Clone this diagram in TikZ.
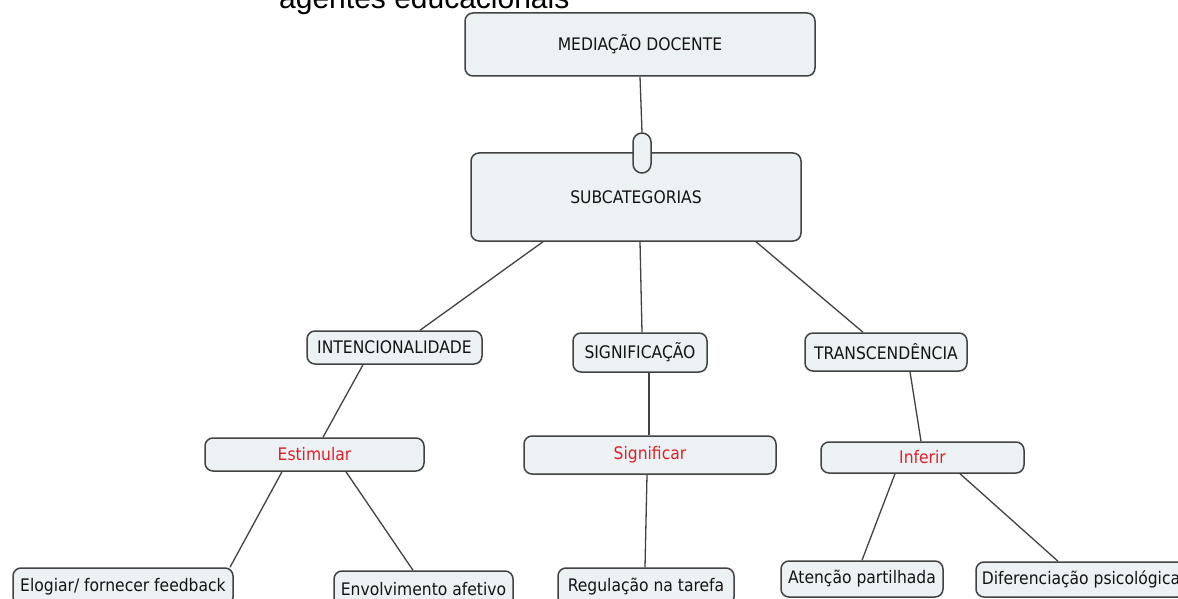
\documentclass[tikz,border=0pt]{standalone}
\usepackage{fontspec}
\newfontfamily\mapfont{DejaVu Sans Condensed}
\newfontfamily\titlefont{Liberation Sans}

\definecolor{boxfill}{RGB}{236,241,243}
\definecolor{boxline}{RGB}{66,66,66}
\definecolor{verbred}{RGB}{222,32,42}

\begin{document}
\begin{tikzpicture}[x=1pt, y=-1pt]
    \tikzstyle{concept} = [rectangle, rounded corners=8pt, draw=boxline, line width=1.5pt, fill=boxfill, inner sep=0pt, text=black!92, font=\mapfont\fontsize{17.3}{20}\selectfont]
    \tikzstyle{verb} = [concept, text=verbred]
    \tikzstyle{joint} = [rectangle, rounded corners=9pt, draw=boxline, line width=1.5pt, fill=boxfill, minimum width=18pt, minimum height=40pt, inner sep=0pt]
    \tikzstyle{connector} = [draw=boxline, line width=1.3pt]

    \clip (0,0) rectangle (1178,599);
    \fill [white] (0,0) rectangle (1178,599);

    % title cut by the top edge
    \node (title) [anchor=base west, inner sep=0pt, font=\titlefont\fontsize{30}{36}\selectfont] at (279,8.5) {agentes educacionais};

    \node (top) [concept, minimum width=350pt, minimum height=63pt] at (640,44.5) {MEDIAÇÃO DOCENTE};
    \node (sub) [concept, minimum width=330pt, minimum height=88pt] at (636,197) {SUBCATEGORIAS};
    \node (link) [joint] at (642,153) {};

    \node (intenc) [concept, minimum width=175pt, minimum height=33pt] at (394.5,347.5) {INTENCIONALIDADE};
    \node (signif) [concept, minimum width=134pt, minimum height=39pt] at (640,352.5) {SIGNIFICAÇÃO};
    \node (transc) [concept, minimum width=162pt, minimum height=38pt] at (886,352) {TRANSCENDÊNCIA};

    \node (estim) [verb, minimum width=219pt, minimum height=33pt] at (314.5,454.5) {Estimular};
    \node (signifv) [verb, minimum width=252pt, minimum height=38pt] at (650,455) {Significar};
    \node (infer) [verb, minimum width=203pt, minimum height=31pt] at (922.5,457.5) {Inferir};

    \node (elogiar) [concept, minimum width=220pt, minimum height=37pt] at (123,586.5) {Elogiar/ fornecer feedback};
    \node (envolv) [concept, minimum width=179pt, minimum height=37pt] at (423.5,589.5) {Envolvimento afetivo};
    \node (regul) [concept, minimum width=176pt, minimum height=37pt] at (646,586.5) {Regulação na tarefa};
    \node (atencao) [concept, minimum width=162pt, minimum height=36pt] at (862,579) {Atenção partilhada};
    \node (difer) [concept, minimum width=210pt, minimum height=35pt] at (1081,579.5) {Diferenciação psicológica};

    \draw [connector] (top.south) -- (link.north);
    \draw [connector] ([xshift=-93pt]sub.south) -- ([xshift=25.5pt]intenc.north);
    \draw [connector] ([xshift=4pt]sub.south) -- ([xshift=2pt]signif.north);
    \draw [connector] ([xshift=120pt]sub.south) -- ([xshift=-23pt]transc.north);
    \draw [connector] ([xshift=-31.5pt]intenc.south) -- ([xshift=8.5pt]estim.north);
    \draw [connector] ([xshift=9pt]signif.south) -- ([xshift=-1pt]signifv.north);
    \draw [connector] ([xshift=24pt]transc.south) -- ([xshift=-1.5pt]infer.north);
    \draw [connector] ([xshift=-32.5pt]estim.south) -- ([xshift=107pt]elogiar.north);
    \draw [connector] ([xshift=31.5pt]estim.south) -- ([xshift=-10.5pt]envolv.north);
    \draw [connector] ([xshift=-3pt]signifv.south) -- ([xshift=-1pt]regul.north);
    \draw [connector] ([xshift=-27.5pt]infer.south) -- (atencao.north);
    \draw [connector] ([xshift=37.5pt]infer.south) -- ([xshift=-23pt]difer.north);
\end{tikzpicture}
\end{document}
